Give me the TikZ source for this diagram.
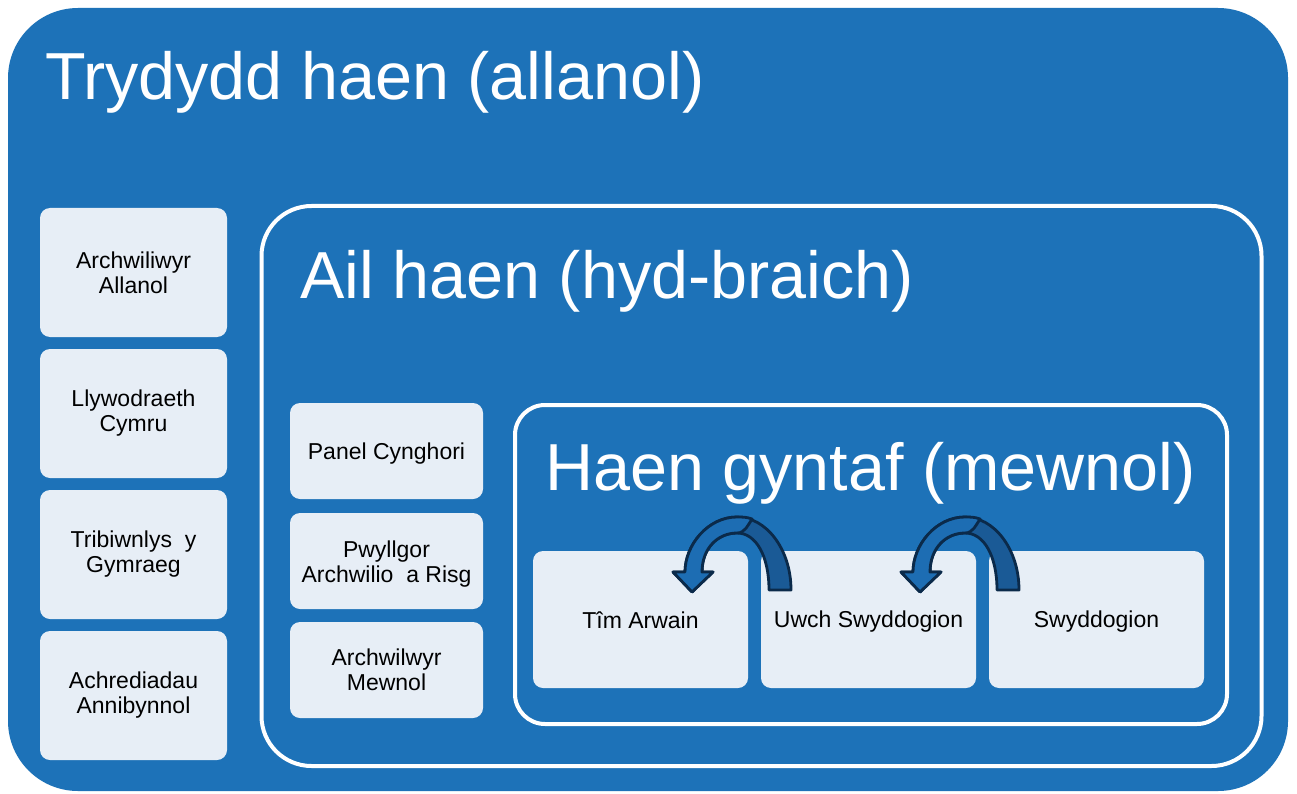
\documentclass[tikz,border=0pt]{standalone}
\usepackage{fontspec}
\setmainfont{Liberation Sans}
\definecolor{bgblue}{HTML}{1D72B8}
\definecolor{boxfill}{HTML}{E7EEF6}
\definecolor{arrfront}{HTML}{1D6DB3}
\definecolor{arrback}{HTML}{1A5A96}
\definecolor{arrline}{HTML}{0B2A4A}
\tikzset{
  container/.style={draw=white, line width=4pt, inner sep=0pt},
  itembox/.style={fill=boxfill, rounded corners=10pt, inner sep=2pt, align=center, text=black, font=\fontsize{23}{25}\selectfont},
  tiletext/.style={inner sep=0pt, align=center, text=black, font=\fontsize{23}{25}\selectfont},
  lefttile/.style={itembox, minimum width=187pt, minimum height=129pt},
  midtile/.style={itembox, minimum width=193pt, minimum height=96pt},
  innertile/.style={itembox, minimum width=215pt, minimum height=137pt},
  tiertitle/.style={anchor=base west, inner sep=0pt, text=white, font=\fontsize{66.5}{70}\selectfont},
  arrowback/.style={fill=arrback, draw=arrline, line width=2.8pt, line join=round},
  arrowfront/.style={fill=arrfront, draw=arrline, line width=2.8pt, line join=round},
}
\begin{document}
\begin{tikzpicture}[x=1pt,y=-1pt]
\useasboundingbox (0,0) rectangle (1297,794);
\fill[white] (0,0) rectangle (1297,794);
% outer tier
\node[fill=bgblue, rounded corners=70pt, minimum width=1280pt, minimum height=783pt, inner sep=0pt] (outer) at (648,399.5) {};
\node[tiertitle] (t3) at (45,100) {Trydydd haen (allanol)};
% second tier
\node[container, rounded corners=50pt, minimum width=1000pt, minimum height=560pt] (second) at (259.5,204) [anchor=north west] {};
\node[tiertitle] (t2) at (300,298) {Ail haen (hyd-braich)};
% first tier
\node[container, rounded corners=30pt, minimum width=712pt, minimum height=319pt] (first) at (513,403) [anchor=north west] {};
\node[tiertitle] (t1) at (545,490) {Haen gyntaf (mewnol)};
% left tiles
\node[lefttile] (aa) at (133.5,272.5) {Archwiliwyr\\Allanol};
\node[lefttile] (lc) at (133.5,413.5) {Llywodraeth\\Cymru};
\node[lefttile] (tg) at (133.5,554.5) {Tribiwnlys\ \ y\\Gymraeg};
\node[lefttile] (ac) at (133.5,695.5) {Achrediadau\\Annibynnol};
% middle tiles
\node[midtile] (pc) at (386.5,451) {};
\node[tiletext] (pctext) at (386.5,454) {Panel Cynghori};
\node[midtile] (pa) at (386.5,561) {};
\node[tiletext] (patext) at (386.5,564) {Pwyllgor\\Archwilio\ \ a Risg};
\node[midtile] (am) at (386.5,670) {Archwilwyr\\Mewnol};
% inner tiles
\node[innertile] (ta) at (640.5,619.5) {};
\node[tiletext] (tatext) at (640.5,620.5) {Tîm Arwain};
\node[innertile] (us) at (868.5,619.5) {};
\node[tiletext] (ustext) at (868.5,621.5) {Uwch Swyddogion};
\node[innertile] (sw) at (1096.5,619.5) {};
\node[tiletext] (swtext) at (1096.5,621.5) {Swyddogion};
% curved arrows
\foreach \dx in {0,228}{
  \begin{scope}[xshift=\dx pt]
  \path[arrowback] (791,590) .. controls (791,549) and (766,517) .. (737,517)
     .. controls (708,517) and (685,545) .. (685,572)
     -- (673,572) -- (692,592) -- (713,572) -- (702,572)
     .. controls (702,548) and (718,533) .. (737,533)
     .. controls (756,533) and (769,556) .. (769,590) -- cycle;
  \path[arrowfront] (737,517)
     .. controls (708,517) and (685,545) .. (685,572)
     -- (673,572) -- (692,592) -- (713,572) -- (702,572)
     .. controls (702,548) and (718,533) .. (737,533)
     .. controls (745,533) and (748,525) .. (752,519)
     .. controls (747,517) and (742,517) .. (737,517) -- cycle;
  \end{scope}
}
\end{tikzpicture}
\end{document}
